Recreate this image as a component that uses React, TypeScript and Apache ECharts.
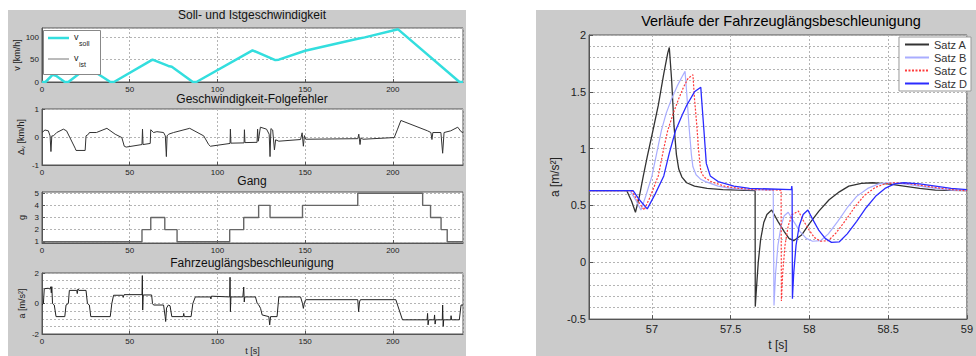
import React, { useEffect, useRef } from "react";
import * as echarts from "echarts";

// ---------- left panel data (t in s) ----------
const speedSoll: [number, number][] = [
  [0, 0], [2, 0], [6, 16], [8, 14], [13, 0], [15, 0], [26, 33], [39, 0], [41, 0],
  [63, 50], [72, 36], [74, 34], [86, 0], [88, 0], [120, 71], [133, 49], [135, 50],
  [150, 70], [180, 97], [184, 100], [203, 118], [238, 0], [240, 0],
];
const speedIst: [number, number][] = [
  [0, 0], [2, 0], [6, 16], [8, 14], [13, 0], [15, 0], [26, 33], [39, 0], [41, 0],
  [63, 50], [72, 36], [74, 34], [86, 0], [88, 0], [120, 71], [133, 49], [135, 50],
  [150, 70], [180, 97], [184, 100], [203, 118], [238, 0], [240, 0],
];
const speedError: [number, number][] = [
  [0, 0.16], [1.7, 0.25], [3.6, 0.22], [4.6, 0.04], [5.1, -0.52], [5.6, 0.04], [6.5, 0.04],
  [8.4, 0.16], [12.2, 0.28], [14, 0.22], [18.9, -0.4], [19.4, -0.48], [24.6, -0.48],
  [25.1, 0.04], [26.5, 0.1], [27, 0.16], [31, 0.16], [37, 0.31], [41.7, 0.1], [45.5, -0.02],
  [46.9, -0.33], [48, -0.36], [57, -0.27], [57.3, 0.28], [57.6, -0.27], [61.7, -0.23],
  [62, 0.26], [63.6, 0.16], [65.5, 0.19], [69.3, 0.16], [70.3, 0.04], [70.9, -0.7],
  [71.3, 0.04], [72.2, 0.1], [75, 0.16], [84.2, 0.31], [92.2, 0.04], [95, -0.27], [96, -0.33],
  [107.2, -0.23], [107.4, 0.28], [107.7, -0.22], [115.2, -0.21], [115.4, 0.26], [115.7, -0.2],
  [122.6, -0.19], [122.9, 0.28], [123.3, -0.15], [124.5, 0.35], [128, 0.28], [129.5, 0.1],
  [130, -0.7], [130.5, 0.3], [131.5, 0.25], [132.5, -0.46], [133.2, -0.1], [135, -0.15],
  [147.4, -0.09], [148.3, 0.15], [149, -0.33], [149.6, 0.05], [150.3, -0.08], [180, -0.06],
  [180.6, 0.1], [181.3, -0.27], [181.8, -0.03], [183, -0.08], [200.8, -0.02], [202.7, 0.28],
  [204.6, 0.59], [219.8, 0.22], [221.7, 0.16], [222.3, -0.09], [222.8, 0.16], [227.4, 0.16],
  [228.4, -0.58], [229.2, 0.16], [233, 0.22], [237, 0.35], [238.9, 0.19], [240, 0.16],
];
const gear: [number, number][] = [
  [0, 1], [57, 2], [62, 3], [70, 2], [77, 1], [107, 2], [115, 3], [123.5, 4], [130, 3],
  [148.5, 4], [180, 5], [217, 4], [221.5, 3], [227.5, 2], [231, 1], [240, 1],
];
const accel: [number, number][] = [
  [0, -0.1], [0.8, 0], [1.3, 0.97], [3.5, 1.0], [4.5, 0.95], [5, 1.1], [5.3, 0.7], [5.6, 1.1],
  [6, 0], [7, -0.1], [8, -0.86], [13, -0.86], [13.7, -0.1], [15, 0], [15.6, 0.86], [19.8, 0.86],
  [20.1, 0.65], [20.5, 0.95], [21, 0.86], [25.1, 0.86], [25.9, 0], [27, -0.1], [27.8, -0.86],
  [38.9, -0.86], [39.8, 0], [40.8, 0.54], [46, 0.54], [46.3, 0.4], [46.8, 0.58], [57, 0.58],
  [57.2, 1.83], [57.4, -0.43], [57.7, 0.56], [62.5, 0.56], [63, 0], [63.6, -0.1], [69.3, -0.1],
  [70.2, -0.86], [70.5, -1.18], [71, -0.3], [72, -0.1], [73, -0.15], [74, -0.86], [80.5, -0.86],
  [80.8, -0.65], [81.1, -0.86], [85, -0.86], [86, 0], [87.4, 0.43], [96, 0.43], [96.3, 0.3],
  [96.6, 0.48], [107, 0.43], [107.2, 1.72], [107.4, -0.54], [107.7, 0.43], [114.5, 0.43],
  [115, 1.08], [115.3, 0.1], [115.6, 0.43], [121.7, 0.43], [122.7, 0], [123.6, -0.1],
  [124.6, -0.32], [125.5, -0.75], [129.3, -0.86], [129.8, -1.4], [130.3, -0.86], [134, -0.86],
  [135, 0.43], [147.4, 0.43], [148.5, 0], [149, -0.32], [149.6, 0.05], [150.3, 0.25], [180, 0.25],
  [180.5, -0.54], [181, 0.1], [181.5, 0.25], [201.7, 0.25], [202.7, -0.1], [205.5, -1.07],
  [219.5, -1.07], [219.8, -0.65], [220.1, -1.4], [220.5, -1.07], [223.5, -1.07], [223.8, -0.75],
  [224.1, -1.35], [224.5, -1.07], [228.2, -1.07], [228.4, -0.1], [228.7, -1.5], [229, -1.07],
  [233, -1.07], [233.2, -0.8], [233.5, -1.07], [237.9, -1.07], [238.9, -0.1], [240, -0.1],
];

// ---------- right panel data (t in s, a in m/s^2) ----------
const satzA: [number, number][] = [
  [56.6, 0.63], [56.84, 0.63], [56.87, 0.54], [56.895, 0.44], [56.92, 0.58], [56.945, 0.76],
  [56.97, 0.93], [57.0, 1.12], [57.04, 1.38], [57.075, 1.66], [57.1, 1.84], [57.11, 1.89],
  [57.125, 1.6], [57.14, 1.2], [57.155, 0.95], [57.17, 0.82], [57.19, 0.75], [57.22, 0.7],
  [57.27, 0.67], [57.35, 0.65], [57.45, 0.64], [57.655, 0.63], [57.656, -0.39], [57.665, -0.2],
  [57.675, 0.0], [57.69, 0.2], [57.71, 0.35], [57.73, 0.42], [57.76, 0.46], [57.8, 0.36],
  [57.84, 0.27], [57.87, 0.21], [57.9, 0.19], [57.95, 0.24], [58.0, 0.34], [58.06, 0.45],
  [58.125, 0.55], [58.19, 0.62], [58.25, 0.67], [58.33, 0.695], [58.4, 0.7], [58.5, 0.69],
  [58.6, 0.67], [58.7, 0.65], [58.8, 0.635], [59, 0.63],
];
const satzB: [number, number][] = [
  [56.6, 0.63], [56.86, 0.63], [56.9, 0.54], [56.93, 0.46], [56.96, 0.58], [57.0, 0.76],
  [57.03, 0.96], [57.06, 1.16], [57.09, 1.31], [57.125, 1.44], [57.16, 1.55], [57.19, 1.63],
  [57.21, 1.68], [57.22, 1.5], [57.235, 1.2], [57.25, 0.95], [57.26, 0.84], [57.28, 0.77],
  [57.31, 0.73], [57.34, 0.71], [57.42, 0.67], [57.5, 0.65], [57.6, 0.64], [57.77, 0.635],
  [57.775, -0.38], [57.785, -0.1], [57.8, 0.15], [57.82, 0.32], [57.84, 0.41], [57.865, 0.44],
  [57.9, 0.36], [57.94, 0.27], [57.98, 0.21], [58.02, 0.185], [58.07, 0.19], [58.12, 0.25],
  [58.18, 0.36], [58.24, 0.48], [58.3, 0.58], [58.37, 0.65], [58.44, 0.69], [58.5, 0.7],
  [58.6, 0.69], [58.7, 0.67], [58.8, 0.65], [58.9, 0.635], [59, 0.63],
];
const satzC: [number, number][] = [
  [56.6, 0.63], [56.87, 0.63], [56.91, 0.54], [56.95, 0.46], [56.99, 0.58], [57.04, 0.76],
  [57.07, 0.97], [57.1, 1.16], [57.135, 1.31], [57.17, 1.44], [57.2, 1.54], [57.23, 1.62],
  [57.26, 1.65], [57.27, 1.44], [57.285, 1.2], [57.295, 1.0], [57.31, 0.8], [57.33, 0.75],
  [57.375, 0.71], [57.46, 0.67], [57.55, 0.65], [57.65, 0.64], [57.82, 0.635], [57.822, -0.34],
  [57.83, -0.1], [57.845, 0.15], [57.865, 0.32], [57.89, 0.42], [57.93, 0.45], [57.96, 0.37],
  [58.0, 0.28], [58.03, 0.22], [58.07, 0.185], [58.12, 0.19], [58.17, 0.26], [58.23, 0.37],
  [58.29, 0.49], [58.35, 0.59], [58.42, 0.66], [58.48, 0.69], [58.54, 0.7], [58.64, 0.69],
  [58.74, 0.67], [58.84, 0.65], [58.94, 0.635], [59, 0.63],
];
const satzD: [number, number][] = [
  [56.6, 0.63], [56.88, 0.63], [56.92, 0.55], [56.97, 0.47], [57.02, 0.6], [57.075, 0.76],
  [57.11, 0.96], [57.15, 1.16], [57.19, 1.29], [57.22, 1.38], [57.27, 1.5], [57.31, 1.54],
  [57.315, 1.44], [57.33, 1.16], [57.345, 0.87], [57.37, 0.76], [57.42, 0.71], [57.52, 0.67],
  [57.62, 0.65], [57.75, 0.645], [57.885, 0.64], [57.888, 0.67], [57.89, 0.64], [57.892, -0.32],
  [57.9, -0.1], [57.915, 0.15], [57.935, 0.32], [57.96, 0.42], [57.99, 0.46], [58.02, 0.38],
  [58.06, 0.28], [58.1, 0.21], [58.14, 0.175], [58.19, 0.18], [58.24, 0.25], [58.3, 0.36],
  [58.36, 0.48], [58.42, 0.58], [58.48, 0.65], [58.54, 0.69], [58.6, 0.7], [58.7, 0.69],
  [58.8, 0.67], [58.9, 0.65], [59, 0.64],
];

const leftTitles = [
  "Soll- und Istgeschwindigkeit",
  "Geschwindigkeit-Folgefehler",
  "Gang",
  "Fahrzeuglängsbeschleunigung",
];
const rightTitle = "Verläufe der Fahrzeuglängsbeschleunigung";
const rightXLabels = [57, 57.5, 58, 58.5, 59];
const gearLabels = [1, 2, 3, 4, 5];

const FONT = "'Liberation Sans', Arial, sans-serif";
const AX = "#555";
const GRID_LINE = { color: "#b4b4b4", type: [2, 2] as any, width: 1 };

function leftX(i: number, last: boolean) {
  return {
    type: "value",
    gridIndex: i,
    min: 0,
    max: 240,
    interval: 50,
    axisLine: { show: true, onZero: false, lineStyle: { color: AX } },
    axisTick: { show: true, inside: true, length: 3, lineStyle: { color: AX } },
    axisLabel: { fontSize: 8, color: "#222", margin: 3, fontFamily: FONT, showMaxLabel: false },
    splitLine: { show: true, lineStyle: GRID_LINE },
    name: last ? "t [s]" : "",
    nameLocation: "middle",
    nameGap: 12,
    nameTextStyle: { fontSize: 9, color: "#222", fontFamily: FONT },
  };
}

function leftY(i: number, extra: any) {
  return {
    type: "value",
    gridIndex: i,
    axisLine: { show: true, lineStyle: { color: AX } },
    axisTick: { show: true, inside: true, length: 3, lineStyle: { color: AX } },
    axisLabel: { fontSize: 8, color: "#222", margin: 3, fontFamily: FONT },
    splitLine: { show: true, lineStyle: GRID_LINE },
    nameLocation: "middle",
    nameGap: 16,
    nameTextStyle: {
      fontSize: 9,
      color: "#222",
      fontFamily: FONT,
      rich: {
        a: { fontSize: 9, color: "#222", fontFamily: FONT },
        s: { fontSize: 6, color: "#222", fontFamily: FONT, padding: [5, 0, 0, 0] },
      },
    },
    ...extra,
  };
}

export default function App() {
  const ref = useRef<HTMLDivElement>(null);

  useEffect(() => {
    if (!ref.current) return;
    const chart = echarts.init(ref.current, null, { renderer: "svg" });

    const grids = [
      { left: 42, top: 28, width: 421, height: 54 },
      { left: 42, top: 109, width: 421, height: 56 },
      { left: 42, top: 192, width: 421, height: 51 },
      { left: 42, top: 273, width: 421, height: 61 },
      { left: 589, top: 35, width: 384, height: 293 },
    ].map((g) => ({
      ...g,
      show: true,
      backgroundColor: "#ffffff",
      borderColor: AX,
      borderWidth: 1,
      containLabel: false,
    }));

    const titleGraphics = leftTitles.map((t, i) => ({
      type: "text",
      x: 252,
      y: [15, 99, 181, 263][i],
      style: {
        text: t,
        fontSize: 12,
        fontFamily: FONT,
        fill: "#111",
        align: "center",
        verticalAlign: "middle",
      },
    }));

    const option: any = {
      animation: false,
      backgroundColor: "transparent",
      textStyle: { fontFamily: FONT },
      grid: grids,
      xAxis: [
        leftX(0, false),
        leftX(1, false),
        leftX(2, false),
        leftX(3, true),
        {
          type: "value",
          gridIndex: 4,
          min: 56.6,
          max: 59,
          axisLine: { show: true, onZero: false, lineStyle: { color: AX } },
          axisTick: {
            show: true,
            inside: true,
            length: 4,
            lineStyle: { color: AX },
            customValues: rightXLabels,
          },
          axisLabel: {
            fontSize: 11,
            color: "#222",
            margin: 4,
            fontFamily: FONT,
            customValues: rightXLabels,
          },
          splitLine: { show: true, lineStyle: GRID_LINE },
          name: "t [s]",
          nameLocation: "middle",
          nameGap: 15,
          nameTextStyle: { fontSize: 12, color: "#222", fontFamily: FONT },
        },
      ],
      yAxis: [
        leftY(0, { min: 0, max: 121, interval: 50, name: "v [km/h]", axisLabel: { fontSize: 8, color: "#222", margin: 3, fontFamily: FONT, showMaxLabel: false } }),
        leftY(1, { min: -1, max: 1, interval: 1, name: "{a|Δ}{s|v}{a| [km/h]}" }),
        leftY(2, {
          min: 0.9,
          max: 5.1,
          name: "g",
          axisTick: { show: true, inside: true, length: 3, lineStyle: { color: AX }, customValues: gearLabels },
          axisLabel: { fontSize: 8, color: "#222", margin: 3, fontFamily: FONT, customValues: gearLabels },
        }),
        leftY(3, {
          min: -2,
          max: 2,
          interval: 2,
          name: "a [m/s²]",
          minorTick: { show: false, splitNumber: 4 },
          minorSplitLine: { show: true, lineStyle: GRID_LINE },
        }),
        {
          type: "value",
          gridIndex: 4,
          min: -0.5,
          max: 2,
          interval: 0.5,
          axisLine: { show: true, lineStyle: { color: AX } },
          axisTick: { show: true, inside: true, length: 4, lineStyle: { color: AX } },
          axisLabel: { fontSize: 11, color: "#222", margin: 3, fontFamily: FONT },
          splitLine: { show: true, lineStyle: GRID_LINE },
          minorTick: { show: false, splitNumber: 5 },
          minorSplitLine: { show: true, lineStyle: GRID_LINE },
          name: "a [m/s²]",
          nameLocation: "middle",
          nameGap: 28,
          nameTextStyle: { fontSize: 12, color: "#222", fontFamily: FONT },
        },
      ],
      legend: {
        data: ["Satz A", "Satz B", "Satz C", "Satz D"],
        orient: "vertical",
        right: 5,
        top: 37,
        backgroundColor: "#ffffff",
        borderColor: "#999",
        borderWidth: 1,
        borderRadius: 0,
        padding: [2, 4, 2, 5],
        itemGap: 2,
        itemWidth: 24,
        itemHeight: 10,
        itemStyle: { opacity: 0 },
        textStyle: { fontSize: 11, color: "#333", fontFamily: FONT },
      },
      graphic: [
        ...titleGraphics,
        {
          type: "text",
          x: 781,
          y: 21,
          style: {
            text: rightTitle,
            fontSize: 14.5,
            fontFamily: FONT,
            fill: "#000",
            align: "center",
            verticalAlign: "middle",
          },
        },
        // legend box of the speed subplot
        {
          type: "rect",
          shape: { x: 43.5, y: 30.5, width: 57, height: 44 },
          style: { fill: "#fff", stroke: "#888", lineWidth: 1 },
          z: 50,
        },
        {
          type: "line",
          shape: { x1: 48, y1: 38, x2: 69, y2: 38 },
          style: { stroke: "#33dede", lineWidth: 2.5 },
          z: 51,
        },
        {
          type: "line",
          shape: { x1: 48, y1: 59, x2: 69, y2: 59 },
          style: { stroke: "#777", lineWidth: 1 },
          z: 51,
        },
        { type: "text", x: 74, y: 37, z: 51, style: { text: "v", fontSize: 9, fontFamily: FONT, fill: "#222", verticalAlign: "middle" } },
        { type: "text", x: 79, y: 43, z: 51, style: { text: "soll", fontSize: 7, fontFamily: FONT, fill: "#222", verticalAlign: "middle" } },
        { type: "text", x: 74, y: 58, z: 51, style: { text: "v", fontSize: 9, fontFamily: FONT, fill: "#222", verticalAlign: "middle" } },
        { type: "text", x: 79, y: 64, z: 51, style: { text: "ist", fontSize: 7, fontFamily: FONT, fill: "#222", verticalAlign: "middle" } },
      ],
      series: [
        {
          name: "v_ist",
          type: "line",
          xAxisIndex: 0,
          yAxisIndex: 0,
          data: speedIst,
          symbol: "none",
          lineStyle: { color: "#777", width: 1 },
        },
        {
          name: "v_soll",
          type: "line",
          xAxisIndex: 0,
          yAxisIndex: 0,
          data: speedSoll,
          symbol: "none",
          lineStyle: { color: "#33dede", width: 2.5 },
        },
        {
          name: "dv",
          type: "line",
          xAxisIndex: 1,
          yAxisIndex: 1,
          data: speedError,
          symbol: "none",
          lineStyle: { color: "#333", width: 1 },
        },
        {
          name: "g",
          type: "line",
          xAxisIndex: 2,
          yAxisIndex: 2,
          data: gear,
          step: "end",
          symbol: "none",
          lineStyle: { color: "#666", width: 1.4 },
        },
        {
          name: "a",
          type: "line",
          xAxisIndex: 3,
          yAxisIndex: 3,
          data: accel,
          symbol: "none",
          lineStyle: { color: "#222", width: 1 },
        },
        {
          name: "Satz A",
          type: "line",
          xAxisIndex: 4,
          yAxisIndex: 4,
          data: satzA,
          symbol: "none",
          color: "#555",
          lineStyle: { color: "#333", width: 1.3 },
        },
        {
          name: "Satz B",
          type: "line",
          xAxisIndex: 4,
          yAxisIndex: 4,
          data: satzB,
          symbol: "none",
          color: "#a9adff",
          lineStyle: { color: "#a9adff", width: 1.2 },
        },
        {
          name: "Satz C",
          type: "line",
          xAxisIndex: 4,
          yAxisIndex: 4,
          data: satzC,
          symbol: "none",
          color: "#ff3b3b",
          lineStyle: { color: "#ff3b3b", width: 1.2, type: [2, 1.5] },
        },
        {
          name: "Satz D",
          type: "line",
          xAxisIndex: 4,
          yAxisIndex: 4,
          data: satzD,
          symbol: "none",
          color: "#2b2bff",
          lineStyle: { color: "#2b2bff", width: 1.3 },
        },
      ],
    };

    chart.setOption(option);
    return () => chart.dispose();
  }, []);

  return (
    <div style={{ position: "absolute", left: 0, top: 0, width: 976, height: 356, background: "#fff", overflow: "hidden" }}>
      <div style={{ position: "absolute", left: 8, top: 10, width: 458, height: 346, background: "#cbcbcb" }} />
      <div style={{ position: "absolute", left: 536, top: 10, width: 440, height: 346, background: "#cbcbcb" }} />
      <div ref={ref} style={{ position: "absolute", left: 0, top: 0, width: 976, height: 356 }} />
    </div>
  );
}
